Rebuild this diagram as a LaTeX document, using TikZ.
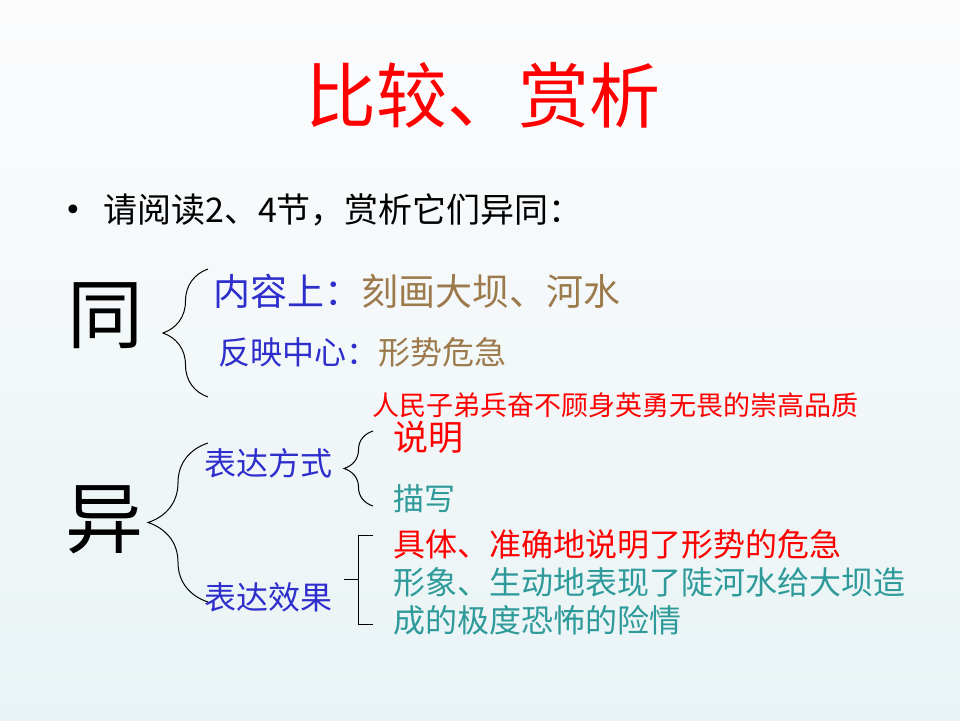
\documentclass[tikz,border=0pt]{standalone}
\usepackage{fontspec}
\setmainfont{Noto Sans CJK SC}
\newfontfamily\dejavu{DejaVu Sans}
\usepackage{tikz}
\usetikzlibrary{decorations.pathreplacing}
\newcommand\fsz[1]{\fontsize{#1}{#1}\selectfont}
\tikzset{txt/.style={anchor=west,inner sep=0pt},
brc/.style={decorate,decoration={brace,amplitude=#1},line width=1pt,blackmain},
bkt/.style={line width=1pt,blackmain}}
\definecolor{blackmain}{HTML}{000000}
\definecolor{redacc}{HTML}{FF0000}
\definecolor{blueacc}{HTML}{2E2ECC}
\definecolor{brownacc}{HTML}{9C7A4C}
\definecolor{tealacc}{HTML}{2E9A9A}
\definecolor{bgtop}{HTML}{FCFCFD}
\definecolor{bgbot}{HTML}{E9F3F5}

\begin{document}
\begin{tikzpicture}[x=1pt,y=-1pt]
\shade[top color=bgtop,bottom color=bgbot] (0,0) rectangle (960,720);
\useasboundingbox (0,0) rectangle (960,720);
% title and task
\node[redacc,font=\fsz{71}] (title) at (483,95) {比较、赏析};
\node[txt,font=\dejavu\fsz{30}] (bul) at (64,213) {•};
\node[txt,font=\fsz{34}] (task) at (103,210) {请阅读2、4节，赏析它们异同：};
% same
\node[font=\fsz{76}] (same) at (105,316) {同};
\node[txt,font=\fsz{37}] (cont) at (213,291) {\color{blueacc}内容上：\color{brownacc}刻画大坝、河水};
\node[txt,font=\fsz{32}] (cent) at (218,352) {\color{blueacc}反映中心：\color{brownacc}形势危急};
\node[txt,redacc,font=\fsz{27}] (qual) at (372,405) {人民子弟兵奋不顾身英勇无畏的崇高品质};
% different
\node[font=\fsz{78}] (diff) at (104,520) {异};
\node[txt,blueacc,font=\fsz{32}] (way) at (204,463) {表达方式};
\node[txt,blueacc,font=\fsz{32}] (eff) at (204,597) {表达效果};
\node[txt,redacc,font=\fsz{35}] (expl) at (393,437) {说明};
\node[txt,tealacc,font=\fsz{31}] (desc) at (393,499) {描写};
\node[txt,redacc,font=\fsz{32}] (eff1) at (393,544) {具体、准确地说明了形势的危急};
\node[txt,tealacc,font=\fsz{32}] (eff2) at (393,582) {形象、生动地表现了陡河水给大坝造};
\node[txt,tealacc,font=\fsz{32}] (eff3) at (393,620) {成的极度恐怖的险情};
% braces
\coordinate (s1) at (208,269); \coordinate (s2) at (208,397);
\coordinate (d1) at (208,443); \coordinate (d2) at (208,602);
\coordinate (w1) at (373,431); \coordinate (w2) at (373,506);
\coordinate (e1) at (373,535); \coordinate (e2) at (373,624);
\coordinate (ek) at (344,579);
\draw[brc=45] (s2)--(s1);
\draw[brc=60] (d2)--(d1);
\draw[brc=29] (w2)--(w1);
\draw[bkt] (e1)--++(-15,0)--++(0,89)--(e2);
\draw[bkt] (ek)--++(14,0);
\end{tikzpicture}
\end{document}
